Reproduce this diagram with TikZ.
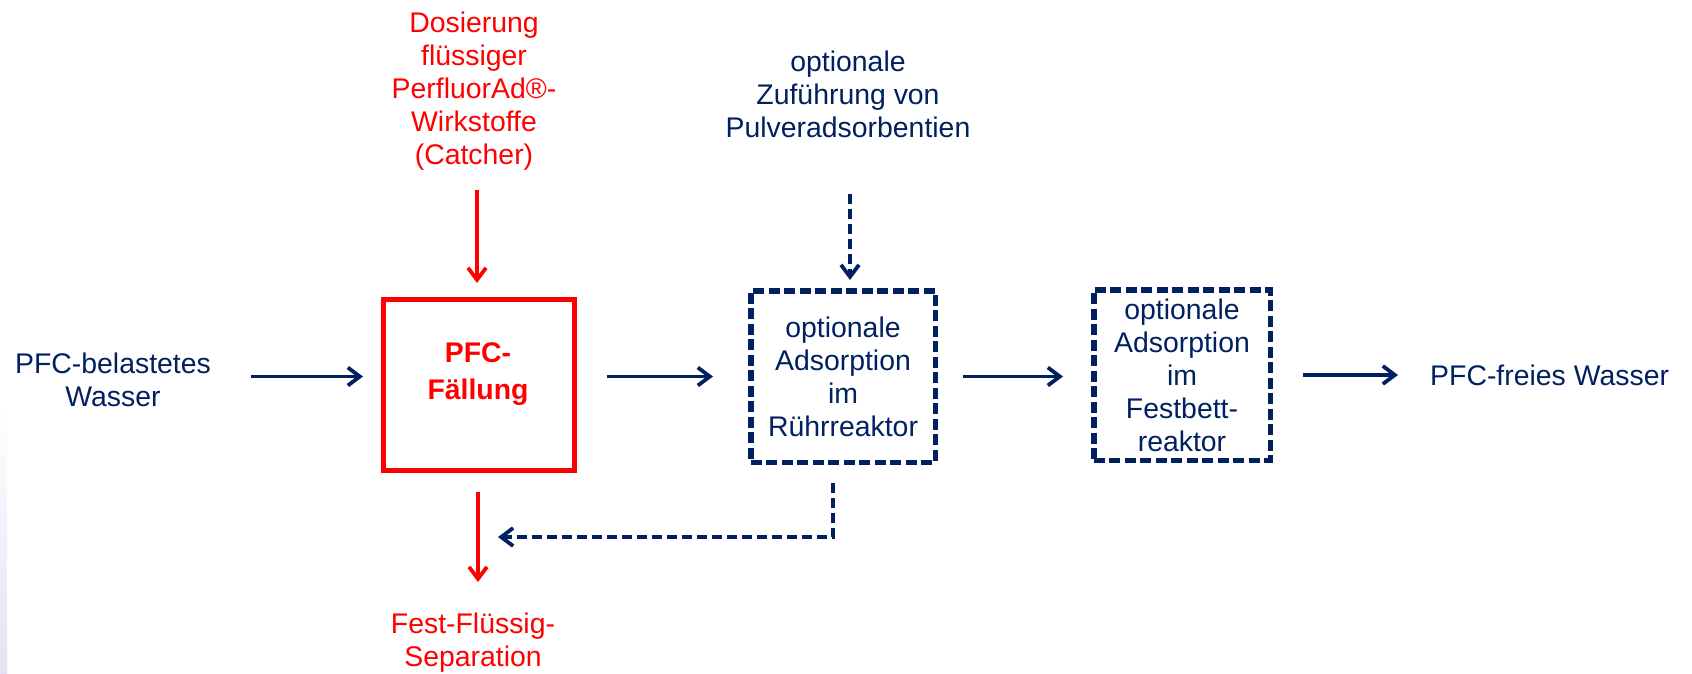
\documentclass[tikz,border=0pt]{standalone}
\usepackage{fontspec}
\setmainfont{Liberation Sans}
\usetikzlibrary{arrows.meta,calc}
\definecolor{navy}{RGB}{0,32,96}
\definecolor{pfcred}{RGB}{255,0,0}
\definecolor{edgeshade}{RGB}{226,226,244}

\begin{document}
\begin{tikzpicture}[x=1pt,y=-1pt,
    txt/.style={align=center,inner sep=0pt,font=\fontsize{28.4}{33}\selectfont},
    boldtxt/.style={txt,font=\fontsize{28.4}{33}\selectfont\bfseries},
    flow/.style={line width=3.8pt,-{Straight Barb[length=12pt,width=18pt]}},
    redflow/.style={flow,pfcred},
    optflow/.style={flow,navy,dash pattern=on 10pt off 5pt},
    optbox/.style={txt,navy,draw=navy,line width=5.5pt,dash pattern=on 11pt off 4.5pt}]
        \useasboundingbox (0,0) rectangle (1692,673);
        \shade[top color=white,bottom color=edgeshade] (0,405) rectangle (7,673);
        %%Process chain
        \node[txt,navy] (inW) at (113,380) {PFC-belastetes\\Wasser};
        \node[draw=pfcred,line width=5pt,minimum width=191pt,minimum height=171pt,inner sep=0pt] (faell) at (479,385) {};
        \node[boldtxt,pfcred] (faellText) at (478,374) {PFC-\\[4pt]Fällung};
        \node[optbox,minimum width=184.5pt,minimum height=171.5pt] (ruehr) at (843,376.5) {optionale\\Adsorption\\im\\Rührreaktor};
        \node[optbox,minimum width=176.5pt,minimum height=170.5pt] (fest) at (1182,375) {optionale\\Adsorption\\im\\Festbett-\\reaktor};
        \node[txt,navy,anchor=west] (outW) at (1430,375) {PFC-freies Wasser};
        %%Inputs and outputs
        \node[txt,pfcred] (catcher) at (474,91) {Dosierung\\flüssiger\\PerfluorAd®-\\Wirkstoffe\\(Catcher)};
        \node[txt,navy] (pulver) at (848,94) {optionale\\Zuführung von\\Pulveradsorbentien};
        \node[txt,pfcred] (sep) at (473,643) {Fest-Flüssig-\\Separation};
        \coordinate (retEnd) at (498,537);
        %%Arrows
        \draw[flow,navy,shorten <=40pt,shorten >=18pt] (inW.east |- ruehr.center) -- (faell.west |- ruehr.center);
        \draw[flow,navy,shorten <=30pt,shorten >=35pt] (faell.east |- ruehr.center) -- (ruehr.west);
        \draw[flow,navy,shorten <=25pt,shorten >=28pt] (ruehr.east) -- (fest.west |- ruehr.east);
        \draw[flow,navy,shorten <=30pt,shorten >=32pt] (fest.east) -- (outW.west |- fest.east);
        \draw[redflow,shorten <=20pt,shorten >=14pt] ([xshift=-2pt]faell.north |- catcher.south) -- ([xshift=-2pt]faell.north);
        \draw[redflow,shorten <=19pt,shorten >=31pt] ([xshift=-1pt]faell.south) -- ([xshift=-1pt]faell.south |- sep.north);
        \draw[optflow,shorten <=56pt,shorten >=8pt] ([xshift=7pt]ruehr.north |- pulver.south) -- ([xshift=7pt]ruehr.north);
        \draw[optflow,shorten <=18pt] ([xshift=-10pt]ruehr.south) |- (retEnd);
\end{tikzpicture}
\end{document}
